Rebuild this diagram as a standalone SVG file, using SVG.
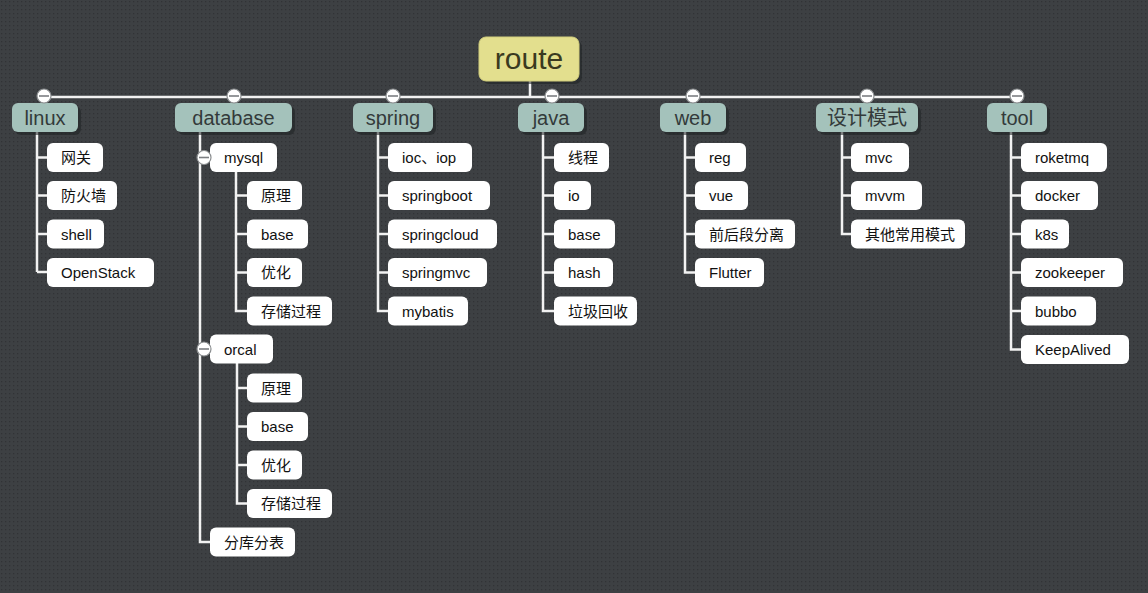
<svg xmlns="http://www.w3.org/2000/svg" width="1148" height="593" viewBox="0 0 1148 593">
<defs>
<pattern id="dots" width="4" height="4" patternUnits="userSpaceOnUse">
<rect width="4" height="4" fill="#3d4043"/>
<rect x="1" y="1" width="1.3" height="1.3" fill="#313336"/>
</pattern>
<g id="coll"><circle r="7" fill="#ffffff" stroke="#8a8d8f" stroke-width="1.2"/><line x1="-5" y1="0" x2="5" y2="0" stroke="#7c7f82" stroke-width="1.6"/></g>
</defs>
<style>
.c{fill:none;stroke:#f2f2f2;stroke-width:2.5}
.sh{fill:#1e2022;opacity:0.55}
.root{fill:#e3df8e;stroke:#d3cf7e;stroke-width:1}
.l1{fill:#a4c2bb}
.ch{fill:#ffffff}
.t0{font-family:"Liberation Sans","Noto Sans CJK SC",sans-serif;font-size:30px;fill:#3a3a20;text-anchor:middle}
.t1{font-family:"Liberation Sans","Noto Sans CJK SC",sans-serif;font-size:20px;fill:#333a3a;text-anchor:middle}
.t2{font-family:"Liberation Sans","Noto Sans CJK SC",sans-serif;font-size:15px;fill:#111111}
</style>
<rect width="1148" height="593" fill="url(#dots)"/>
<g id="connectors">
<path class="c" d="M530 80V97M44 97H1017"/>
<path class="c" d="M37 132V272M37 157.5H47M37 195.5H47M37 234H47M37 272H47"/>
<path class="c" d="M200 132V542H210M200 157.5H210M200 349H210"/>
<path class="c" d="M236 171V311H247M236 195.5H247M236 234H247M236 272.5H247"/>
<path class="c" d="M237 363V503.5H247M237 388H247M237 426.5H247M237 465H247"/>
<path class="c" d="M378 132V311H388M378 157.5H388M378 195.5H388M378 234H388M378 272.5H388"/>
<path class="c" d="M543 132V311H554M543 157.5H554M543 195.5H554M543 234H554M543 272.5H554"/>
<path class="c" d="M685 132V272.5H695M685 157.5H695M685 195.5H695M685 234H695"/>
<path class="c" d="M842 132V234H851M842 157.5H851M842 195.5H851"/>
<path class="c" d="M1011 132V349.5H1021M1011 157.5H1021M1011 195.5H1021M1011 234H1021M1011 272.5H1021M1011 311H1021"/>
</g>
<g id="route"><rect class="sh" x="482" y="40" width="100" height="44" rx="7"/><rect class="root" x="479" y="37" width="100" height="44" rx="7"/><text class="t0" x="529" y="69">route</text></g>
<g id="linux"><rect class="sh" x="15" y="106" width="66" height="29" rx="6"/><rect class="l1" x="12" y="103" width="66" height="29" rx="6"/><text class="t1" x="45" y="124.5">linux</text><use href="#coll" x="44" y="96"/></g>
<g id="database"><rect class="sh" x="178" y="106" width="117" height="29" rx="6"/><rect class="l1" x="175" y="103" width="117" height="29" rx="6"/><text class="t1" x="233.5" y="124.5">database</text><use href="#coll" x="234" y="96"/></g>
<g id="spring"><rect class="sh" x="356" y="106" width="80" height="29" rx="6"/><rect class="l1" x="353" y="103" width="80" height="29" rx="6"/><text class="t1" x="393" y="124.5">spring</text><use href="#coll" x="393" y="96"/></g>
<g id="java"><rect class="sh" x="521" y="106" width="66" height="29" rx="6"/><rect class="l1" x="518" y="103" width="66" height="29" rx="6"/><text class="t1" x="551" y="124.5">java</text><use href="#coll" x="552" y="96"/></g>
<g id="web"><rect class="sh" x="663" y="106" width="66" height="29" rx="6"/><rect class="l1" x="660" y="103" width="66" height="29" rx="6"/><text class="t1" x="693" y="124.5">web</text><use href="#coll" x="693" y="96"/></g>
<g id="design"><rect class="sh" x="819" y="106" width="102" height="29" rx="6"/><rect class="l1" x="816" y="103" width="102" height="29" rx="6"/><text class="t1" x="867" y="124.5">设计模式</text><use href="#coll" x="867" y="96"/></g>
<g id="tool"><rect class="sh" x="990" y="106" width="60" height="29" rx="6"/><rect class="l1" x="987" y="103" width="60" height="29" rx="6"/><text class="t1" x="1017" y="124.5">tool</text><use href="#coll" x="1017" y="96"/></g>

<g id="linux-1"><rect class="ch" x="47" y="143" width="56" height="29" rx="6"/><text class="t2" x="61" y="163">网关</text></g>
<g id="linux-2"><rect class="ch" x="47" y="181" width="70" height="29" rx="6"/><text class="t2" x="61" y="201">防火墙</text></g>
<g id="linux-3"><rect class="ch" x="47" y="219.5" width="57" height="29" rx="6"/><text class="t2" x="61" y="239.5">shell</text></g>
<g id="linux-4"><rect class="ch" x="47" y="258" width="107" height="29" rx="6"/><text class="t2" x="61" y="278">OpenStack</text></g>

<g id="mysql"><rect class="ch" x="210" y="143" width="67" height="29" rx="6"/><text class="t2" x="224" y="163">mysql</text><use href="#coll" x="204" y="157.5"/></g>
<g id="mysql-1"><rect class="ch" x="247" y="181" width="55" height="29" rx="6"/><text class="t2" x="261" y="201">原理</text></g>
<g id="mysql-2"><rect class="ch" x="247" y="219.5" width="61" height="29" rx="6"/><text class="t2" x="261" y="239.5">base</text></g>
<g id="mysql-3"><rect class="ch" x="247" y="258" width="55" height="29" rx="6"/><text class="t2" x="261" y="278">优化</text></g>
<g id="mysql-4"><rect class="ch" x="247" y="296.5" width="85" height="29" rx="6"/><text class="t2" x="261" y="316.5">存储过程</text></g>
<g id="orcal"><rect class="ch" x="210" y="334.5" width="63" height="29" rx="6"/><text class="t2" x="224" y="354.5">orcal</text><use href="#coll" x="204" y="349"/></g>
<g id="orcal-1"><rect class="ch" x="247" y="373.5" width="55" height="29" rx="6"/><text class="t2" x="261" y="393.5">原理</text></g>
<g id="orcal-2"><rect class="ch" x="247" y="412" width="61" height="29" rx="6"/><text class="t2" x="261" y="432">base</text></g>
<g id="orcal-3"><rect class="ch" x="247" y="450.5" width="55" height="29" rx="6"/><text class="t2" x="261" y="470.5">优化</text></g>
<g id="orcal-4"><rect class="ch" x="247" y="489" width="85" height="29" rx="6"/><text class="t2" x="261" y="509">存储过程</text></g>
<g id="db-split"><rect class="ch" x="210" y="527.5" width="85" height="29" rx="6"/><text class="t2" x="224" y="547.5">分库分表</text></g>

<g id="spring-1"><rect class="ch" x="388" y="143" width="84" height="29" rx="6"/><text class="t2" x="402" y="163">ioc、iop</text></g>
<g id="spring-2"><rect class="ch" x="388" y="181" width="102" height="29" rx="6"/><text class="t2" x="402" y="201">springboot</text></g>
<g id="spring-3"><rect class="ch" x="388" y="219.5" width="109" height="29" rx="6"/><text class="t2" x="402" y="239.5">springcloud</text></g>
<g id="spring-4"><rect class="ch" x="388" y="258" width="99" height="29" rx="6"/><text class="t2" x="402" y="278">springmvc</text></g>
<g id="spring-5"><rect class="ch" x="388" y="296.5" width="80" height="29" rx="6"/><text class="t2" x="402" y="316.5">mybatis</text></g>

<g id="java-1"><rect class="ch" x="554" y="143" width="55" height="29" rx="6"/><text class="t2" x="568" y="163">线程</text></g>
<g id="java-2"><rect class="ch" x="554" y="181" width="37" height="29" rx="6"/><text class="t2" x="568" y="201">io</text></g>
<g id="java-3"><rect class="ch" x="554" y="219.5" width="61" height="29" rx="6"/><text class="t2" x="568" y="239.5">base</text></g>
<g id="java-4"><rect class="ch" x="554" y="258" width="59" height="29" rx="6"/><text class="t2" x="568" y="278">hash</text></g>
<g id="java-5"><rect class="ch" x="554" y="296.5" width="83" height="29" rx="6"/><text class="t2" x="568" y="316.5">垃圾回收</text></g>

<g id="web-1"><rect class="ch" x="695" y="143" width="51" height="29" rx="6"/><text class="t2" x="709" y="163">reg</text></g>
<g id="web-2"><rect class="ch" x="695" y="181" width="53" height="29" rx="6"/><text class="t2" x="709" y="201">vue</text></g>
<g id="web-3"><rect class="ch" x="695" y="219.5" width="100" height="29" rx="6"/><text class="t2" x="709" y="239.5">前后段分离</text></g>
<g id="web-4"><rect class="ch" x="695" y="258" width="69" height="29" rx="6"/><text class="t2" x="709" y="278">Flutter</text></g>

<g id="design-1"><rect class="ch" x="851" y="143" width="58" height="29" rx="6"/><text class="t2" x="865" y="163">mvc</text></g>
<g id="design-2"><rect class="ch" x="851" y="181" width="71" height="29" rx="6"/><text class="t2" x="865" y="201">mvvm</text></g>
<g id="design-3"><rect class="ch" x="851" y="219.5" width="114" height="29" rx="6"/><text class="t2" x="865" y="239.5">其他常用模式</text></g>

<g id="tool-1"><rect class="ch" x="1021" y="143" width="86" height="29" rx="6"/><text class="t2" x="1035" y="163">roketmq</text></g>
<g id="tool-2"><rect class="ch" x="1021" y="181" width="77" height="29" rx="6"/><text class="t2" x="1035" y="201">docker</text></g>
<g id="tool-3"><rect class="ch" x="1021" y="219.5" width="48" height="29" rx="6"/><text class="t2" x="1035" y="239.5">k8s</text></g>
<g id="tool-4"><rect class="ch" x="1021" y="258" width="102" height="29" rx="6"/><text class="t2" x="1035" y="278">zookeeper</text></g>
<g id="tool-5"><rect class="ch" x="1021" y="296.5" width="75" height="29" rx="6"/><text class="t2" x="1035" y="316.5">bubbo</text></g>
<g id="tool-6"><rect class="ch" x="1021" y="335" width="108" height="29" rx="6"/><text class="t2" x="1035" y="355">KeepAlived</text></g>
</svg>
